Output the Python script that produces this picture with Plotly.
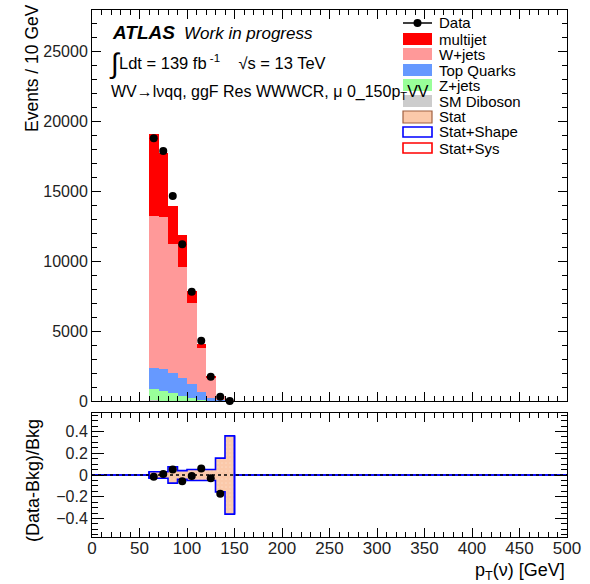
import numpy as np
import plotly.graph_objects as go

# ---- data ----
bin_lo = [60, 70, 80, 90, 100, 110, 120, 130, 140]
data = [18770, 17860, 14640, 11190, 7810, 4310, 1740, 310, 0]
multijet = [5830, 4570, 2720, 2270, 900, 310, 135, 0, 0]
wjets = [10860, 10860, 9230, 7920, 5790, 3090, 1420, 310, 10]
top = [1500, 1570, 1430, 1310, 950, 600, 210, 55, 5]
zjets = [840, 655, 520, 335, 220, 60, 25, 8, 0]
diboson = [40, 35, 30, 25, 20, 10, 5, 2, 0]
stat_err = [0.03, 0.03, 0.075, 0.04, 0.05, 0.05, 0.05, 0.155, 0.36]

BW = 10
centers = [b + BW / 2 for b in bin_lo]
bkg = np.array(multijet) + np.array(wjets) + np.array(top) + np.array(zjets) + np.array(diboson)
ratio = np.array(data) / bkg - 1.0

FONT = "Liberation Sans, Arial, sans-serif"
W, H = 590, 584
L, R, T, B = 92, 23, 10, 47
PW, PH = W - L - R, H - T - B


def px(x):
    return (x - L) / PW


def py(y):
    return (H - B - y) / PH


fig = go.Figure()

# stacked histograms
stack = [
    ("SM Diboson", diboson, "#cccccc"),
    ("Z+jets", zjets, "#99ff99"),
    ("Top Quarks", top, "#6699ff"),
    ("W+jets", wjets, "#ff9999"),
    ("multijet", multijet, "#ff0000"),
]
for name, vals, col in stack:
    fig.add_trace(go.Bar(x=centers, y=vals, width=BW, name=name,
                         marker=dict(color=col, line=dict(width=0)),
                         xaxis="x", yaxis="y", showlegend=False))

fig.add_trace(go.Scatter(x=centers, y=data, mode="markers",
                         marker=dict(color="black", size=8),
                         xaxis="x", yaxis="y", showlegend=False, cliponaxis=False))

# ratio panel: stat band
fig.add_trace(go.Bar(x=centers, y=[2 * e for e in stat_err], base=[-e for e in stat_err],
                     width=BW, marker=dict(color="#fbc9aa", line=dict(width=0),
                                           pattern=dict(shape=".", fgcolor="#fde3d2", size=4, solidity=0.15)),
                     xaxis="x2", yaxis="y2", showlegend=False))

# blue Stat+Shape outline as step lines over full range
edges = [0] + bin_lo + [bin_lo[-1] + BW, 500]
up = [0] + stat_err + [0, 0]
dn = [0] + [-e for e in stat_err] + [0, 0]
for arr in (up, dn):
    fig.add_trace(go.Scatter(x=edges, y=arr, mode="lines", line=dict(color="#0000ff", width=1.6, shape="hv"),
                             xaxis="x2", yaxis="y2", showlegend=False))
# vertical edges at start/end of band
fig.add_trace(go.Scatter(x=[bin_lo[0], bin_lo[0], None, bin_lo[-1] + BW, bin_lo[-1] + BW],
                         y=[-stat_err[0], stat_err[0], None, -stat_err[-1], stat_err[-1]],
                         mode="lines", line=dict(color="#0000ff", width=1.6),
                         xaxis="x2", yaxis="y2", showlegend=False))
fig.add_trace(go.Scatter(x=[0, 500], y=[0, 0], mode="lines",
                         line=dict(color="black", width=1.3, dash="3px,3px"),
                         xaxis="x2", yaxis="y2", showlegend=False))
fig.add_trace(go.Scatter(x=centers, y=ratio, mode="markers",
                         marker=dict(color="black", size=8),
                         xaxis="x2", yaxis="y2", showlegend=False))

axis_common = dict(ticks="inside", mirror="allticks", showline=True, linecolor="black", linewidth=1,
                   tickcolor="black", showgrid=False, zeroline=False,
                   tickfont=dict(family=FONT, size=16, color="#222"))

fig.update_layout(
    width=W, height=H, margin=dict(l=L, r=R, t=T, b=B),
    paper_bgcolor="white", plot_bgcolor="white", barmode="stack", bargap=0,
    showlegend=False,
    xaxis=dict(domain=[0, 1], anchor="y", range=[0, 500], dtick=50, ticklen=9,
               showticklabels=False,
               minor=dict(dtick=10, ticks="inside", ticklen=5, tickcolor="black"), **axis_common),
    yaxis=dict(domain=[py(401), 1], anchor="x", range=[0, 27930], dtick=5000, ticklen=9,
               tickformat="d",
               minor=dict(dtick=1000, ticks="inside", ticklen=5, tickcolor="black"), **axis_common),
    xaxis2=dict(domain=[0, 1], anchor="y2", range=[0, 500], dtick=50, ticklen=9,
                ticklabelstandoff=-4,
                minor=dict(dtick=10, ticks="inside", ticklen=5, tickcolor="black"),
                **{**axis_common, "tickfont": dict(family=FONT, size=17, color="#222")}),
    yaxis2=dict(domain=[0, py(413)], anchor="x2", range=[-0.57, 0.57],
                tickvals=[-0.4, -0.2, 0, 0.2, 0.4], ticktext=["\u22120.4", "\u22120.2", "0", "0.2", "0.4"],
                ticklen=12, minor=dict(dtick=0.05, ticks="inside", ticklen=6, tickcolor="black"),
                **axis_common),
)

ann = []


def text(x, y, s, size=15, xanchor="left", **kw):
    ann.append(dict(x=px(x), y=py(y), xref="paper", yref="paper", text=s, showarrow=False,
                    xanchor=xanchor, yanchor="middle", font=dict(family=FONT, size=size, color="black"), **kw))


text(110, 32, "<b><i>ATLAS</i></b>", size=19)
text(182, 33, "<i>Work in progress</i>", size=17)
text(107, 63, "\u222b", size=28)
text(117, 62, "Ldt = 139 fb<sup> -1</sup>    \u221as = 13 TeV", size=16.5)
text(109, 92, "WV\u2192l\u03bdqq, ggF Res WWWCR, \u03bc 0_150p<sub>T</sub>VV", size=16)

# axis titles
text(32, 68, "Events / 10 GeV", size=17.5, xanchor="center", textangle=-90)
text(33, 481, "(Data-Bkg)/Bkg", size=18, xanchor="center", textangle=-90)
text(567, 571, "p<sub>T</sub>(\u03bd) [GeV]", size=18, xanchor="right")

# manual legend
rows = [23, 39, 54, 70, 85, 101, 117, 132, 148]
labels = ["Data", "multijet", "W+jets", "Top Quarks", "Z+jets", "SM Diboson", "Stat", "Stat+Shape", "Stat+Sys"]
shapes = []
x0, x1 = 403, 432
for i, (yr, lab) in enumerate(zip(rows, labels)):
    text(437, yr, lab, size=15)
fill_cols = {1: "#ff0000", 2: "#ff9999", 3: "#6699ff", 4: "#99ff99", 5: "#cccccc"}
for i, c in fill_cols.items():
    yr = rows[i]
    shapes.append(dict(type="rect", xref="paper", yref="paper", x0=px(x0), x1=px(x1),
                       y0=py(yr + 6), y1=py(yr - 6), fillcolor=c, line=dict(width=0)))
shapes.append(dict(type="rect", xref="paper", yref="paper", x0=px(x0), x1=px(x1),
                   y0=py(rows[6] + 6), y1=py(rows[6] - 6), fillcolor="#fbc9aa",
                   line=dict(color="#a06040", width=1.2)))
shapes.append(dict(type="rect", xref="paper", yref="paper", x0=px(x0), x1=px(x1),
                   y0=py(rows[7] + 5), y1=py(rows[7] - 5), fillcolor="white",
                   line=dict(color="#0000ff", width=1.6)))
shapes.append(dict(type="rect", xref="paper", yref="paper", x0=px(x0), x1=px(x1),
                   y0=py(rows[8] + 5), y1=py(rows[8] - 5), fillcolor="white",
                   line=dict(color="#ff0000", width=1.6)))
shapes.append(dict(type="line", xref="paper", yref="paper", x0=px(x0), x1=px(x1),
                   y0=py(rows[0]), y1=py(rows[0]), line=dict(color="black", width=1.5)))
shapes.append(dict(type="circle", xref="paper", yref="paper", x0=px(413.5), x1=px(421.5),
                   y0=py(rows[0] + 4), y1=py(rows[0] - 4), fillcolor="black", line=dict(width=0)))

fig.update_layout(annotations=ann, shapes=shapes)
fig.write_html("out.html")
